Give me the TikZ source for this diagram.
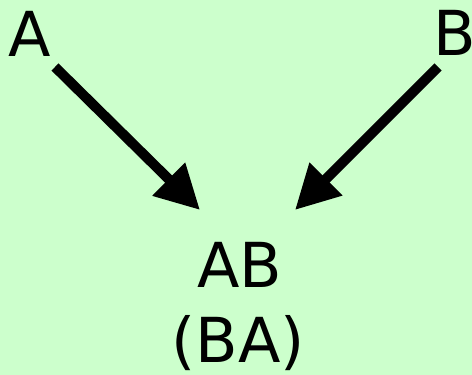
\documentclass[tikz,border=0pt]{standalone}
\usepackage{fontspec}
\setmainfont{DejaVu Sans}
\usetikzlibrary{arrows.meta}
\definecolor{bg}{HTML}{CCFFCC}
\begin{document}
\begin{tikzpicture}[x=1pt,y=-1pt,
  lbl/.style={font=\fontsize{62}{70}\selectfont, inner sep=0pt, anchor=base},
  arr/.style={line width=10pt, -{Triangle[length=44pt,width=44pt]}}]
\fill[bg] (0,0) rectangle (472,375);
\useasboundingbox (0,0) rectangle (472,375);
\node[lbl] (A) at (30,56) {A};
\node[lbl] (B) at (455,55) {B};
\node[lbl] (AB) at (240,287) {AB};
\node[lbl] (BA) at (238,362) {(BA)};
\coordinate (a0) at (55,67);
\coordinate (a1) at (200,210);
\coordinate (b0) at (438,67);
\coordinate (b1) at (295,210);
\draw[arr] (a0) -- (a1);
\draw[arr] (b0) -- (b1);
\end{tikzpicture}
\end{document}
